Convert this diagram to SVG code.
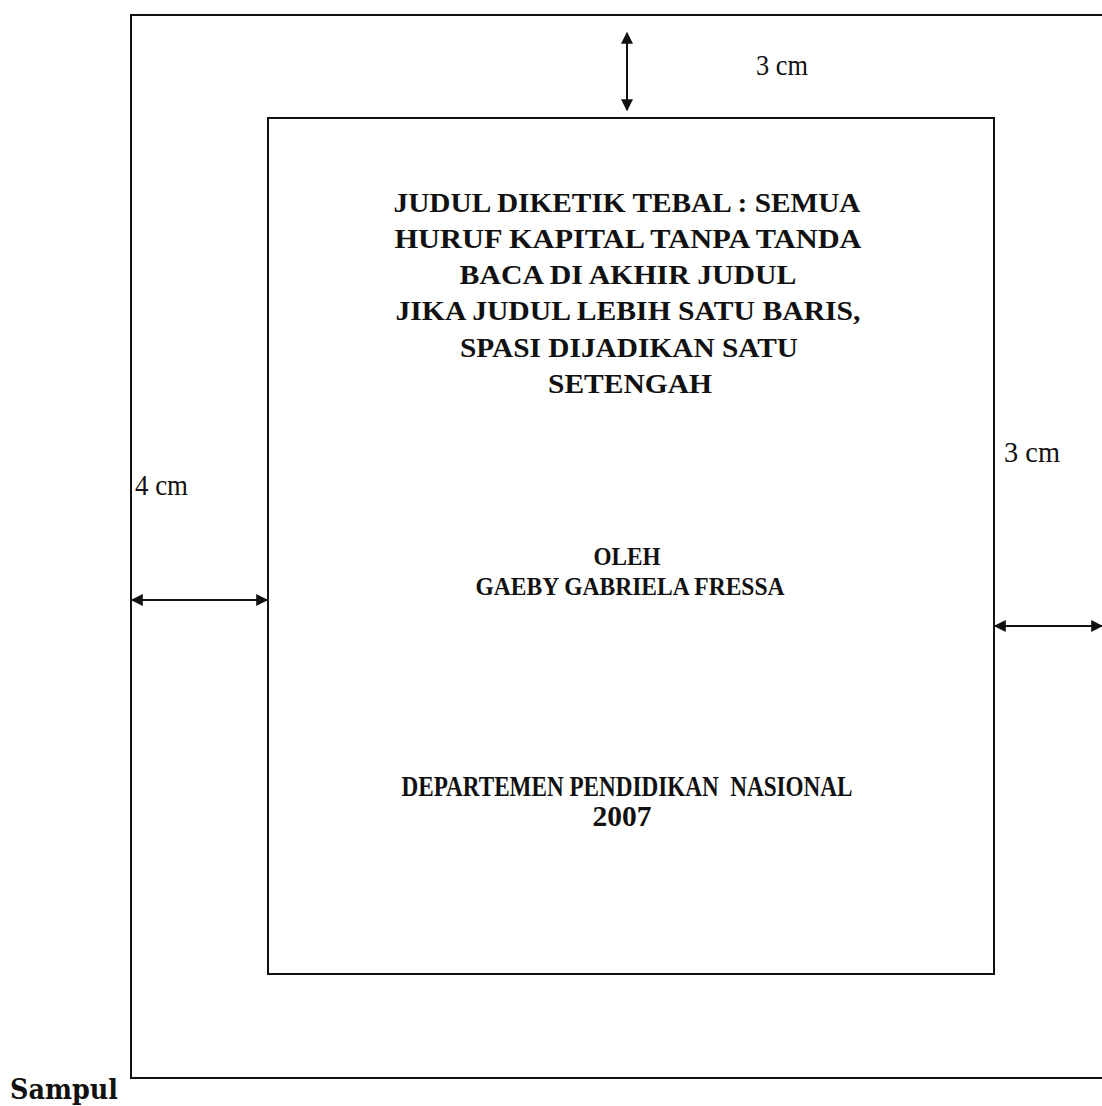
<svg xmlns="http://www.w3.org/2000/svg" width="1102" height="1106" viewBox="0 0 1102 1106">
<style>
.t{font-family:"Liberation Serif","Times New Roman",serif;font-weight:bold;fill:#111;text-anchor:middle}
.m{font-family:"Liberation Serif","Times New Roman",serif;fill:#111;font-size:30px}
.box{fill:none;stroke:#111;stroke-width:2}
.arr{stroke:#111;stroke-width:2;fill:none;marker-start:url(#ah);marker-end:url(#ah)}
</style>
<defs>
<marker id="ah" viewBox="0 0 10 10" refX="9" refY="5" markerWidth="6.5" markerHeight="6" orient="auto-start-reverse" markerUnits="strokeWidth">
<path d="M0,0 L10,5 L0,10 z" fill="#111"/>
</marker>
</defs>
<rect width="1102" height="1106" fill="#fff"/>
<g id="outer"><rect class="box" x="131" y="15" width="980" height="1063"/></g>
<g id="inner"><rect class="box" x="268" y="118" width="726" height="856"/></g>
<g id="connectors">
<line class="arr" x1="627" y1="33" x2="627" y2="110"/>
<line class="arr" x1="132" y1="600" x2="267" y2="600"/>
<line class="arr" x1="995" y1="626" x2="1102" y2="626"/>
</g>
<g id="labels">
<text class="m" x="756" y="75" textLength="52" lengthAdjust="spacingAndGlyphs">3 cm</text>
<text class="m" x="1004" y="462" textLength="56" lengthAdjust="spacingAndGlyphs">3 cm</text>
<text class="m" x="135" y="495" textLength="53" lengthAdjust="spacingAndGlyphs">4 cm</text>
</g>
<g id="title" class="t" font-size="28">
<text x="627" y="212" textLength="467" lengthAdjust="spacingAndGlyphs">JUDUL DIKETIK TEBAL : SEMUA</text>
<text x="628" y="248" textLength="467" lengthAdjust="spacingAndGlyphs">HURUF KAPITAL TANPA TANDA</text>
<text x="628" y="284" textLength="337" lengthAdjust="spacingAndGlyphs">BACA DI AKHIR JUDUL</text>
<text x="628" y="320" textLength="465" lengthAdjust="spacingAndGlyphs">JIKA JUDUL LEBIH SATU BARIS,</text>
<text x="629" y="357" textLength="338" lengthAdjust="spacingAndGlyphs">SPASI DIJADIKAN SATU</text>
<text x="630" y="393" textLength="164" lengthAdjust="spacingAndGlyphs">SETENGAH</text>
</g>
<g id="author" class="t" font-size="25">
<text x="627" y="565" textLength="67" lengthAdjust="spacingAndGlyphs">OLEH</text>
<text x="630" y="595" textLength="309" lengthAdjust="spacingAndGlyphs">GAEBY GABRIELA FRESSA</text>
</g>
<g id="dept" class="t" font-size="29">
<text x="627" y="796" textLength="451" lengthAdjust="spacingAndGlyphs" style="white-space:pre">DEPARTEMEN PENDIDIKAN  NASIONAL</text>
<text x="622" y="826" textLength="59" lengthAdjust="spacingAndGlyphs">2007</text>
</g>
<g id="caption"><text x="10" y="1099" font-family="'DejaVu Serif','Liberation Serif',serif" font-weight="bold" font-size="27" fill="#111" textLength="108" lengthAdjust="spacingAndGlyphs">Sampul</text></g>
</svg>
